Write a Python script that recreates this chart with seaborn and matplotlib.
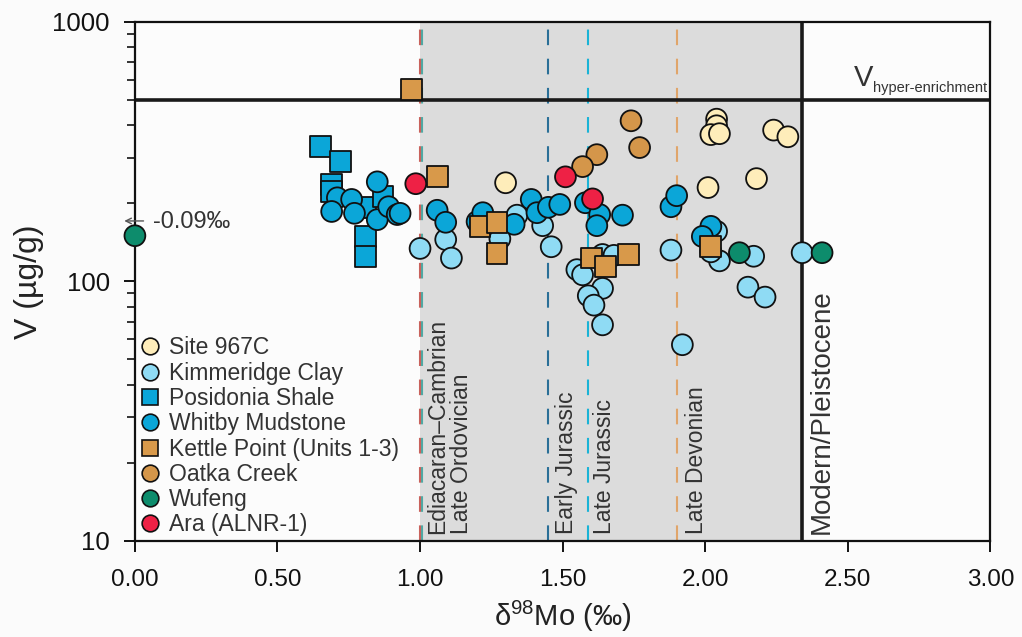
import numpy as np
import pandas as pd
import matplotlib
matplotlib.use("Agg")
import matplotlib.pyplot as plt
import matplotlib.ticker as mticker
from matplotlib.lines import Line2D
import seaborn as sns

# ---------------- data ----------------
site967c_x = [1.30, 2.04, 2.04, 2.02, 2.05, 2.24, 2.29, 2.01, 2.18]
site967c_v = [240, 422, 398, 368, 371, 383, 361, 230, 249]

kimmeridge_x = [1.00, 1.09, 1.11, 1.28, 1.34, 1.43, 1.46, 1.55, 1.57, 1.64, 1.68, 1.64,
                1.59, 1.61, 1.64, 1.88, 1.92, 2.04, 2.05, 2.02, 2.17, 2.15, 2.21, 2.34]
kimmeridge_v = [134, 145, 123, 146, 180, 164, 136, 111, 106, 127, 126, 94,
                88, 81, 68, 132, 57, 156, 120, 130, 125, 95, 87, 129]

posidonia_x = [0.65, 0.72, 0.69, 0.69, 0.81, 0.87, 0.81, 0.81]
posidonia_v = [330, 289, 236, 222, 193, 212, 149, 125]

whitby_x = [0.85, 0.71, 0.76, 0.69, 0.77, 0.85, 0.89, 0.92, 0.93, 1.06, 1.09, 1.20, 1.22,
            1.33, 1.39, 1.41, 1.45, 1.49, 1.58, 1.63, 1.62, 1.71, 1.88, 1.90, 2.02, 1.99]
whitby_v = [242, 210, 207, 186, 183, 173, 194, 181, 183, 188, 169, 170, 184,
            166, 207, 184, 193, 198, 201, 181, 164, 180, 194, 214, 163, 149]

kettle_x = [0.97, 1.06, 1.21, 1.27, 1.27, 1.60, 1.65, 1.73, 2.02]
kettle_v = [548, 253, 163, 169, 128, 123, 114, 127, 136]

oatka_x = [1.74, 1.77, 1.62, 1.57]
oatka_v = [416, 328, 308, 277]

wufeng_x = [0.0, 2.12, 2.41]
wufeng_v = [150, 129, 129]

ara_x = [0.985, 1.51, 1.605]
ara_v = [238, 253, 208]

groups = ["Site 967C", "Kimmeridge Clay", "Posidonia Shale", "Whitby Mudstone",
          "Kettle Point (Units 1-3)", "Oatka Creek", "Wufeng", "Ara (ALNR-1)"]
group_x = [site967c_x, kimmeridge_x, posidonia_x, whitby_x, kettle_x, oatka_x, wufeng_x, ara_x]
group_v = [site967c_v, kimmeridge_v, posidonia_v, whitby_v, kettle_v, oatka_v, wufeng_v, ara_v]
colors = ["#FEEDBA", "#8FDBF4", "#0BA6D8", "#0BA6D8", "#D8994A", "#D4964A", "#0D8C6C", "#EE2145"]
markers = ["o", "o", "s", "o", "s", "o", "o", "o"]

period_x = [1.00, 1.45, 1.59, 1.90]
period_colors = ["#C9625C", "#2A6F97", "#1AB3D6", "#E0A56A"]
modern_x = 2.34
hyper_v = 500
xticks = [0.0, 0.5, 1.0, 1.5, 2.0, 2.5, 3.0]

rows = []
for g, xs, vs in zip(groups, group_x, group_v):
    for a, b in zip(xs, vs):
        rows.append({"group": g, "d98Mo": a, "V": b})
df = pd.DataFrame(rows)

# ---------------- figure ----------------
sns.set_style("ticks")
plt.rcParams["font.family"] = ["Liberation Sans", "DejaVu Sans"]
plt.rcParams["mathtext.fontset"] = "custom"
plt.rcParams["mathtext.rm"] = "Liberation Sans"

fig = plt.figure(figsize=(10.22, 6.37), dpi=100, facecolor="#FBFBFB")
ax = fig.add_axes([0.132, 0.151, 0.837, 0.8145])
ax.set_facecolor("#FCFCFC")

ax.set_yscale("log")
ax.set_xlim(0, 3.0)
ax.set_ylim(10, 1000)

ax.axvspan(period_x[0], modern_x, color="#DCDCDC", zorder=0, lw=0)
ax.axvline(1.006, color="#4FA9A3", lw=1.5, ls=(0, (7.5, 6.5)), zorder=1)
for px, pc in zip(period_x, period_colors):
    ax.axvline(px, color=pc, lw=1.5, ls=(0, (7.5, 6.5)), zorder=1)
ax.axvline(modern_x, color="#1a1a1a", lw=2.6, zorder=2)
ax.axhline(hyper_v, color="#1a1a1a", lw=2.6, zorder=2)

palette = dict(zip(groups, colors))
mk = dict(zip(groups, markers))
sns.scatterplot(data=df, x="d98Mo", y="V", hue="group", style="group",
                hue_order=groups, style_order=groups, palette=palette, markers=mk,
                s=225, edgecolor="#111111", linewidth=1.3, legend=False,
                ax=ax, zorder=3, clip_on=False)

# text annotations
lab_kw = dict(rotation=90, ha="center", va="bottom", color="#333333")
ax.text(1.06, 10.6, "Ediacaran\u2013Cambrian", fontsize=16.5, **lab_kw)
ax.text(1.145, 10.6, "Late Ordovician", fontsize=16.5, **lab_kw)
ax.text(1.515, 10.6, "Early Jurassic", fontsize=16.5, **lab_kw)
ax.text(1.648, 10.6, "Late Jurassic", fontsize=16.5, **lab_kw)
ax.text(1.97, 10.6, "Late Devonian", fontsize=16.5, **lab_kw)
ax.text(2.41, 10.6, "Modern/Pleistocene", fontsize=20, **lab_kw)

ax.text(2.52, 567, "V", fontsize=21, ha="left", va="baseline", color="#333333")
ax.text(2.588, 535, "hyper-enrichment", fontsize=10.5, ha="left", va="baseline", color="#333333")

ax.annotate("", xy=(-0.047, 171), xytext=(0.04, 171),
            arrowprops=dict(arrowstyle="->", color="#555555", lw=1.0),
            annotation_clip=False)
ax.text(0.062, 170, "-0.09\u2030", fontsize=17, ha="left", va="center", color="#333333")

# axes
ax.set_xticks(xticks)
ax.set_xticklabels([f"{t:.2f}" for t in xticks])
ax.yaxis.set_major_locator(mticker.FixedLocator([10, 100, 1000]))
ax.yaxis.set_major_formatter(mticker.FixedFormatter(["10", "100", "1000"]))
ax.yaxis.set_minor_locator(mticker.LogLocator(base=10, subs=np.arange(2, 10)))
ax.yaxis.set_minor_formatter(mticker.NullFormatter())
ax.tick_params(axis="x", which="major", direction="out", length=8, width=1.4,
               labelsize=17.5, pad=12, colors="#111111")
ax.tick_params(axis="y", which="major", direction="out", length=8, width=1.4,
               labelsize=18.5, pad=10, colors="#111111")
ax.tick_params(axis="y", which="minor", direction="out", length=6, width=1.2, colors="#111111")
for sp in ax.spines.values():
    sp.set_linewidth(1.6)
    sp.set_color("#111111")
    sp.set_zorder(2.5)

ax.set_xlabel("\u03b4$^{\\mathregular{98}}$Mo (\u2030)", fontsize=21, labelpad=6, color="#222222")
ax.set_ylabel("V (\u00b5g/g)", fontsize=23, labelpad=6, color="#222222")

handles = [Line2D([0], [0], marker=m, linestyle="none", markerfacecolor=c,
                  markeredgecolor="#111111", markeredgewidth=1.2,
                  markersize=12 if m == "o" else 11)
           for c, m in zip(colors, markers)]
ax.legend(handles, groups, loc="upper left", bbox_to_anchor=(0.004, 0.394),
          frameon=False, fontsize=16.5, labelspacing=0.1, handletextpad=0.35,
          handlelength=1.0, borderpad=0.0, borderaxespad=0.0,
          labelcolor="#333333")

fig.savefig("out.png", dpi=100, facecolor=fig.get_facecolor())
